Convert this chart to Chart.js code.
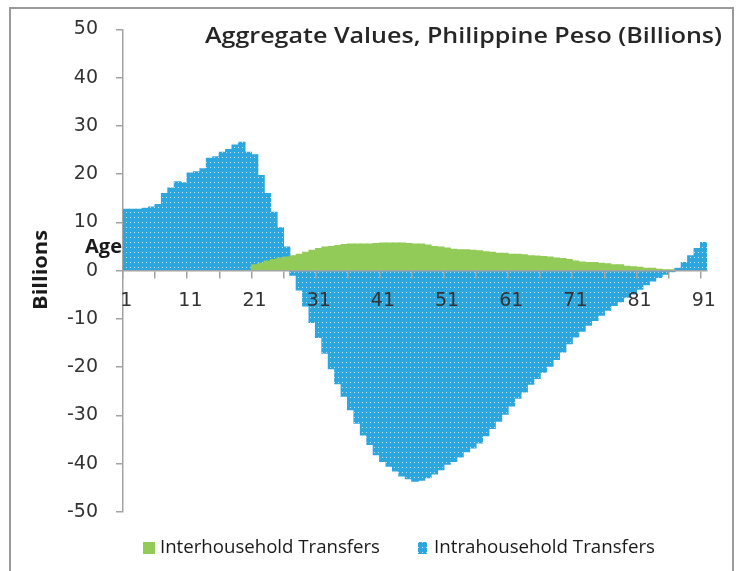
<!DOCTYPE html>
<html>
<head>
<meta charset="utf-8">
<script src="https://cdn.jsdelivr.net/npm/chart.js@4.4.1/dist/chart.umd.min.js"></script>
<style>
body{margin:0;background:#fff;}
#wrap{position:relative;width:740px;height:571px;overflow:hidden;}
canvas{position:absolute;left:0;top:0;}
</style>
</head>
<body>
<div id="wrap"><canvas id="c" width="740" height="571"></canvas></div>
<script>
// ages on the x axis (Excel default numbering 1..91)
const ages = ['1','2','3','4','5','6','7','8','9','10',
  '11','12','13','14','15','16','17','18','19','20',
  '21','22','23','24','25','26','27','28','29','30',
  '31','32','33','34','35','36','37','38','39','40',
  '41','42','43','44','45','46','47','48','49','50',
  '51','52','53','54','55','56','57','58','59','60',
  '61','62','63','64','65','66','67','68','69','70',
  '71','72','73','74','75','76','77','78','79','80',
  '81','82','83','84','85','86','87','88','89','90','91'];

const xTickLabels = ['1','11','21','31','41','51','61','71','81','91'];

// billions of pesos
const intraTransfers = [12.7,12.7,12.7,12.9,13.2,13.7,16.0,17.1,18.4,18.2,
  20.2,20.5,21.1,23.3,23.6,24.5,25.1,26.0,26.6,24.5,
  24.0,19.7,16.0,12.1,8.9,4.9,-0.9,-4.0,-7.3,-10.7,
  -13.8,-17.1,-20.3,-23.4,-26.0,-28.8,-31.6,-34.0,-36.0,-38.1,
  -39.5,-40.5,-41.5,-42.5,-43.1,-43.6,-43.4,-42.9,-42.1,-41.2,
  -40.1,-39.5,-38.6,-37.5,-36.7,-35.7,-34.2,-32.7,-31.2,-29.7,
  -28.0,-26.4,-25.1,-23.5,-22.3,-21.0,-19.8,-18.4,-16.8,-15.1,
  -13.7,-12.5,-11.3,-10.3,-9.2,-8.2,-7.2,-6.4,-5.5,-4.8,
  -3.8,-2.9,-2.1,-1.4,-0.7,-0.2,0.5,1.7,3.1,4.6,5.8];

const interTransfers = [null,null,null,null,null,null,null,null,null,null,
  null,null,null,null,null,null,null,null,null,null,
  1.2,1.5,2.0,2.3,2.6,2.8,3.1,3.4,3.8,4.2,
  4.6,4.9,5.0,5.2,5.4,5.5,5.5,5.5,5.5,5.6,
  5.7,5.7,5.7,5.7,5.6,5.5,5.5,5.3,5.0,4.9,
  4.7,4.4,4.3,4.3,4.2,4.1,3.9,3.8,3.6,3.6,
  3.4,3.4,3.3,3.1,3.0,2.9,2.8,2.6,2.5,2.3,
  2.0,1.8,1.7,1.7,1.5,1.4,1.2,1.2,0.9,0.8,
  0.7,0.5,0.5,0.3,0.2,0.1,null,null,null,null,null];

const GREEN = '#92cb57';
const BLUE = '#2ca6de';
const AXIS = '#a3a3a3';
const FONT = 'DejaVu Sans';
const LABEL_FONT = 'Open Sans';

const ctx = document.getElementById('c').getContext('2d');

// blue fill with little white dots, like the excel pattern
function dotPattern(){
  const p = document.createElement('canvas');
  p.width = 4; p.height = 5;
  const g = p.getContext('2d');
  g.fillStyle = BLUE;
  g.fillRect(0, 0, 4, 5);
  g.fillStyle = '#c4e6f7';
  g.fillRect(2, 2, 1, 1);
  return ctx.createPattern(p, 'repeat');
}
const dots = dotPattern();

// draw text squeezed/stretched into a given width
function fitText(c, text, x, y, width, size, weight, color){
  c.save();
  c.font = weight + ' ' + size + 'px "' + LABEL_FONT + '"';
  c.fillStyle = color;
  c.textBaseline = 'middle';
  c.textAlign = 'left';
  const w = c.measureText(text).width;
  c.translate(x, y);
  c.scale(width / w, 1);
  c.fillText(text, 0, 0);
  c.restore();
}

const decor = {
  id: 'decor',
  beforeDraw(chart){
    const c = chart.ctx;
    c.save();
    c.strokeStyle = '#9a9a9a';
    c.lineWidth = 2;
    c.strokeRect(10, 8, 723, 600);
    c.restore();
  },
  afterDraw(chart){
    const c = chart.ctx;
    fitText(c, 'Aggregate Values, Philippine Peso (Billions)', 205, 37, 517, 22, '600', '#262626');
    fitText(c, 'Age', 85, 248, 37, 19, 'bold', '#1a1a1a');

    c.save();
    c.translate(42, 270);
    c.rotate(-Math.PI / 2);
    fitText(c, 'Billions', -40, 0, 80, 19, 'bold', '#1a1a1a');
    c.restore();

    // legend
    c.fillStyle = GREEN;
    c.fillRect(143, 542, 12, 12);
    fitText(c, 'Interhousehold Transfers', 160, 548, 220, 18, 'normal', '#1a1a1a');
    c.fillStyle = dots;
    c.fillRect(418, 542, 9, 12);
    fitText(c, 'Intrahousehold Transfers', 434, 548, 221, 18, 'normal', '#1a1a1a');
  }
};

new Chart(ctx, {
  type: 'bar',
  data: {
    labels: ages,
    datasets: [
      {label: 'Interhousehold Transfers', data: interTransfers, backgroundColor: GREEN,
       grouped: false, barPercentage: 1, categoryPercentage: 1, borderWidth: 0, inflateAmount: 0.6},
      {label: 'Intrahousehold Transfers', data: intraTransfers, backgroundColor: dots,
       grouped: false, barPercentage: 1, categoryPercentage: 1, borderWidth: 0, inflateAmount: 0.6}
    ]
  },
  options: {
    responsive: false,
    animation: false,
    layout: {padding: {left: 0, right: 33, top: 25, bottom: 59}},
    plugins: {legend: {display: false}, tooltip: {enabled: false}},
    scales: {
      x: {
        position: {y: 0},
        offset: true,
        grid: {
          offset: true, drawOnChartArea: false, tickLength: 7, lineWidth: 1.5, z: 1,
          color: c => c.index % 5 === 0 ? AXIS : 'rgba(0,0,0,0)'
        },
        border: {color: AXIS, width: 1.5, z: 1},
        ticks: {
          z: 1, autoSkip: false, maxRotation: 0, minRotation: 0, padding: 12,
          font: {family: FONT, size: 19}, color: '#333',
          callback: (v, i) => xTickLabels.includes(ages[i]) ? ages[i] : ''
        }
      },
      y: {
        min: -50, max: 50,
        ticks: {stepSize: 10, padding: 18, font: {family: FONT, size: 19}, color: '#333'},
        grid: {drawOnChartArea: false, tickLength: 7, lineWidth: 1.5, color: AXIS},
        border: {color: AXIS, width: 1.5},
        afterFit: s => { s.width = 123; }
      }
    }
  },
  plugins: [decor]
});
</script>
</body>
</html>
